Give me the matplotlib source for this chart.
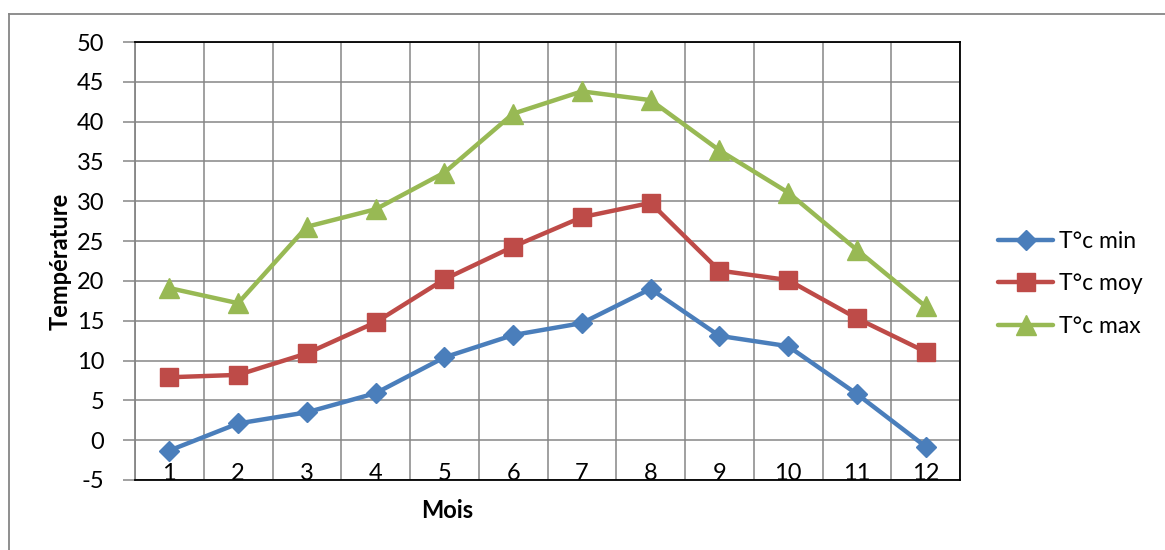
import matplotlib
matplotlib.use("Agg")
import matplotlib.pyplot as plt
from matplotlib.lines import Line2D

# ---- data ----
mois = [1, 2, 3, 4, 5, 6, 7, 8, 9, 10, 11, 12]
t_min = [-1.3, 2.1, 3.5, 5.9, 10.4, 13.2, 14.7, 19.0, 13.1, 11.8, 5.8, -0.8]
t_moy = [7.9, 8.2, 10.9, 14.8, 20.2, 24.3, 28.0, 29.8, 21.3, 20.1, 15.3, 11.1]
t_max = [19.1, 17.2, 26.8, 29.0, 33.6, 41.0, 43.8, 42.7, 36.4, 31.1, 23.9, 16.8]
series_labels = ["T°c min", "T°c moy", "T°c max"]
y_ticks = list(range(-5, 51, 5))
x_title = "Mois"
y_title = "Température"

FONT = "Lato"
plt.rcParams["font.family"] = [FONT, "DejaVu Sans"]

W, H = 1165, 550
fig = plt.figure(figsize=(W / 100, H / 100), dpi=100)
fig.patch.set_facecolor("white")

# chart border (top and left visible)
grey = "#868686"
fig.add_artist(Line2D([8.5 / W, 1.0], [1 - 13.5 / H, 1 - 13.5 / H], transform=fig.transFigure,
                      color=grey, lw=1.3))
fig.add_artist(Line2D([8.5 / W, 8.5 / W], [0, 1 - 13.5 / H], transform=fig.transFigure,
                      color=grey, lw=1.3))

ax = fig.add_axes([135 / W, 70 / H, 825 / W, 438 / H])

blue = "#4A7EBB"
red = "#BE4B48"
green = "#98B954"

ax.plot(mois, t_min, color=blue, lw=3.2, marker="D", ms=10, mec=blue, mfc=blue,
        label=series_labels[0], zorder=3, solid_capstyle="round")
ax.plot(mois, t_moy, color=red, lw=3.2, marker="s", ms=13, mec=red, mfc=red,
        label=series_labels[1], zorder=3, solid_capstyle="round")
ax.plot(mois, t_max, color=green, lw=3.2, marker="^", ms=14, mec=green, mfc=green,
        label=series_labels[2], zorder=3, solid_capstyle="round")

ax.set_xlim(0.5, len(mois) + 0.5)
ax.set_ylim(-5, 50)
ax.set_yticks(y_ticks)
ax.set_yticklabels([str(v) for v in y_ticks])

# vertical gridlines between categories
ax.set_xticks([m - 0.5 for m in mois] + [len(mois) + 0.5])
ax.set_xticklabels([])
ax.tick_params(axis="x", length=0)
ax.grid(True, color=grey, lw=1.1, zorder=0)
ax.set_axisbelow(True)

ax.tick_params(axis="y", length=9, width=1.1, color=grey, pad=13, labelsize=17,
               labelcolor="black")

# category labels just above the bottom axis
for m in mois:
    ax.text(m, 0.0, str(m), transform=ax.get_xaxis_transform(), ha="center",
            va="baseline", fontsize=17, color="black", zorder=4)

for s in ["top", "right", "bottom"]:
    ax.spines[s].set_color("black")
    ax.spines[s].set_linewidth(1.3)
ax.spines["left"].set_color(grey)
ax.spines["left"].set_linewidth(1.3)

fig.text(447 / W, 1 - 510 / H, x_title, ha="center", va="center", fontsize=17,
         fontweight="bold")
fig.text(60 / W, 1 - 261 / H, y_title, ha="center", va="center", fontsize=17,
         fontweight="bold", rotation=90)

fig.legend(loc="center left", bbox_to_anchor=(998 / W, 1 - 284 / H), frameon=False,
           fontsize=16.5, handlelength=2.4, handletextpad=0.25, labelspacing=0.95,
           borderpad=0, borderaxespad=0)

fig.savefig("out.png", dpi=100, facecolor="white")
